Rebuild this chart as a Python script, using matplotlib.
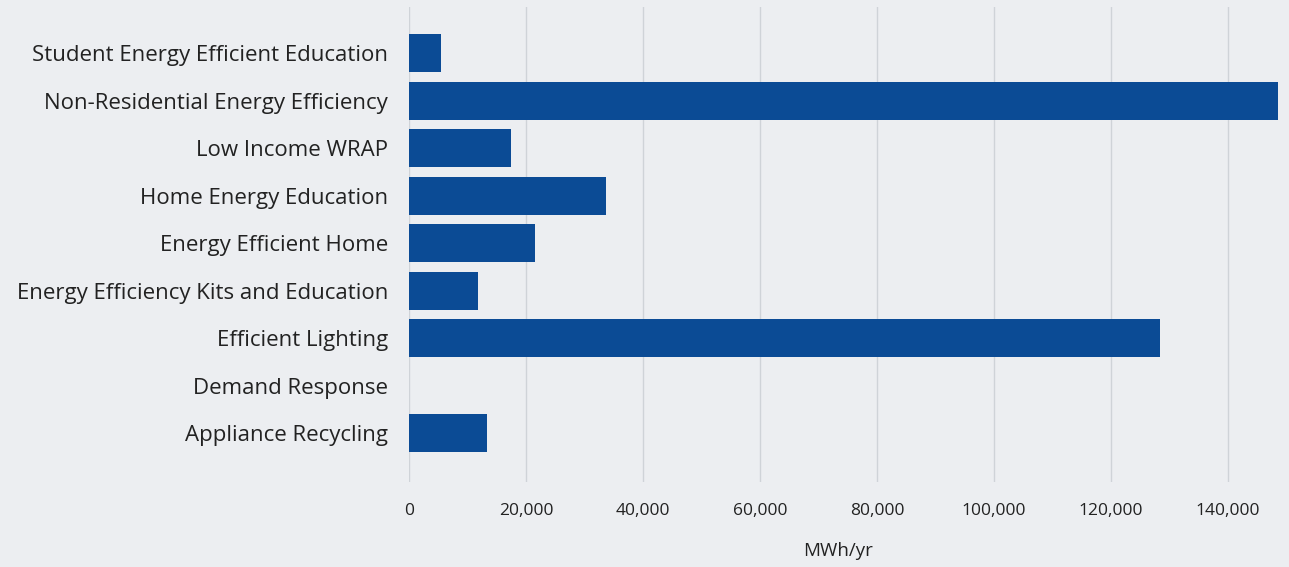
import numpy as np
import matplotlib.pyplot as plt
from matplotlib.ticker import FuncFormatter

# energy savings by program, listed bottom to top
programs = ['Appliance Recycling', 'Demand Response', 'Efficient Lighting',
            'Energy Efficiency Kits and Education', 'Energy Efficient Home',
            'Home Energy Education', 'Low Income WRAP',
            'Non-Residential Energy Efficiency', 'Student Energy Efficient Education']
savings = [13300, 0, 128400, 11800, 21500, 33600, 17400, 148500, 5500]
xticks = [0, 20000, 40000, 60000, 80000, 100000, 120000, 140000]

plt.rcParams['font.family'] = ['Open Sans', 'DejaVu Sans']

W, H = 1289, 567
fig = plt.figure(figsize=(W / 100, H / 100), dpi=100)
fig.patch.set_facecolor('#eceef1')
ax = fig.add_axes([409 / W, 1 - 482 / H, (W - 409) / W, (482 - 7) / H])
ax.set_facecolor('#eceef1')

y = np.arange(len(programs))
ax.barh(y, savings, height=0.8, color='#0b4b95', zorder=3)

ax.set_xlim(0, 150400)
ax.set_ylim(-1.03, 8.97)
ax.set_yticks(y)
ax.set_yticklabels(programs, fontsize=16, color='#222222')
ax.set_xticks(xticks)
ax.xaxis.set_major_formatter(FuncFormatter(lambda v, p: f'{int(v):,}'))
ax.tick_params(axis='x', length=0, pad=15, labelsize=12.5, labelcolor='#222222')
ax.tick_params(axis='y', length=0, pad=15)
ax.grid(axis='x', color='#cfd3d8', linewidth=1, zorder=0)
for s in ax.spines.values():
    s.set_visible(False)

ax.set_xlabel('MWh/yr', fontsize=13.5, color='#222222')
ax.xaxis.set_label_coords((838 - 409) / (W - 409), -(542 - 482) / (482 - 7))

fig.savefig('out.png', dpi=100, facecolor=fig.get_facecolor())
